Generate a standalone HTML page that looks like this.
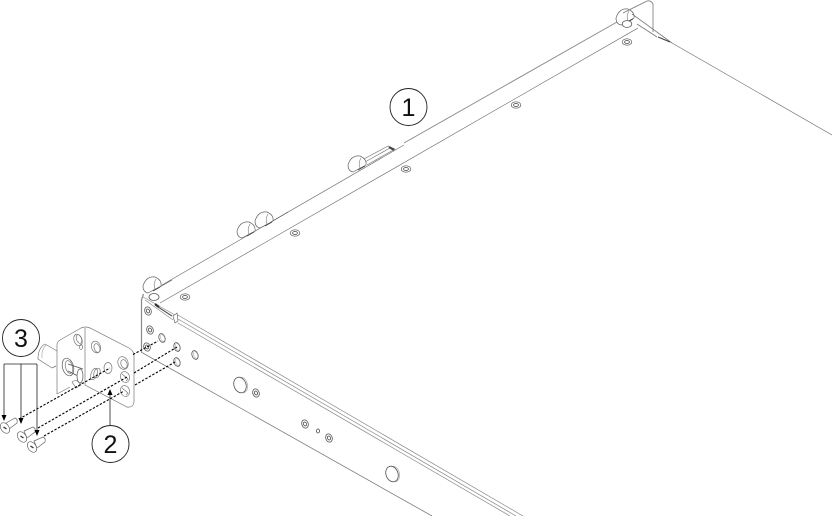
<!DOCTYPE html>
<html><head><meta charset="utf-8"><style>
html,body{margin:0;padding:0;background:#fff;width:832px;height:516px;overflow:hidden}
svg{display:block}
text{font-family:"Liberation Sans",sans-serif;fill:#111}
</style></head><body>
<svg width="832" height="516" viewBox="0 0 832 516" xmlns="http://www.w3.org/2000/svg" fill="none" stroke="#666" stroke-width=".6">
<defs>
<g id="s"><ellipse rx="4.800" ry="3.200" stroke="#555" stroke-width=".7"/><ellipse rx="2.400" ry="1.500" stroke="#444" stroke-width=".8"/></g>
<g id="w" stroke="#666" stroke-width=".7"><path d="M5 -9 Q-4 -10 -7 0 Q-7 6 -2 7 L11 0 Q12 -6 5 -9 Z" fill="#fff"/><path d="M6 -7 Q3 -2 5 3" stroke="#888"/><path d="M3 5 L10 1" stroke="#444" stroke-width=".9"/></g>
<g id="h"><ellipse rx="3" ry="4.500" transform="rotate(-20)" stroke="#555" stroke-width=".8"/><ellipse cx=".6" cy=".2" rx="2" ry="3.500" transform="rotate(-20)" stroke="#999" stroke-width=".5"/></g>
<g id="m"><ellipse rx="3.200" ry="4.200" transform="rotate(-20)" stroke="#555" stroke-width=".8"/><ellipse rx="1.500" ry="2" transform="rotate(-20)" stroke="#444" stroke-width=".8"/></g>
</defs>
<!-- top panel edges -->
<path d="M162 285 L404 145"/>
<path d="M404 143 L617 22" stroke="#888" stroke-width=".9"/>
<path d="M160 303 L638 28"/>
<path d="M672 43 L832 135"/>
<!-- far bracket -->
<use href="#w" x="623" y="18"/>
<path d="M623 13 L647 1 Q651 0 653 4 L653 32" stroke="#777" stroke-width=".8"/>
<path d="M632 14 L672 43 M637 24 L657 37" stroke="#777" stroke-width=".8"/>
<path d="M658 37 L670 42" stroke="#444" stroke-width="1"/>
<ellipse cx="627" cy="24" rx="4.800" ry="3.400" fill="#fff" stroke="#555" stroke-width=".8"/>
<use href="#s" x="627" y="42"/><use href="#s" x="516" y="105"/><use href="#s" x="406" y="169"/><use href="#s" x="295" y="233"/><use href="#s" x="185" y="297"/>
<!-- wheels and latches -->
<path d="M362 160 L388 146 L395 149 L367 165 M365 162 L390 148" stroke="#777" stroke-width=".7"/>
<path d="M389 147 L394 150" stroke="#444" stroke-width="2"/>
<use href="#w" x="355" y="165"/>
<use href="#w" x="262" y="221"/><use href="#w" x="244" y="231"/>
<path d="M271 222 L288 212" stroke="#555" stroke-width=".7"/>
<use href="#w" x="150" y="286"/>
<path d="M158 288 L172 280" stroke="#555" stroke-width=".7"/>
<!-- near corner -->
<ellipse cx="154" cy="297" rx="5" ry="3.500" stroke="#555" stroke-width=".8"/>
<path d="M141.500 352 L141.500 300 L143.500 294" stroke="#888" stroke-width="1.200"/>
<path d="M143 297 L175 315 M145 300 L173 320" stroke="#888" stroke-width=".7"/>
<path d="M155 305 L172 316" stroke="#555" stroke-width="1.100"/>
<path d="M155 304 L159 307" stroke="#333" stroke-width="2.200"/>
<path d="M173 316 L177 313 L178 321 L175 323 Z" fill="#fff" stroke="#555"/>
<!-- side panel edges -->
<path d="M177 314.500 L523 516 M178 319 L516 516 M178 323 L510 516" stroke="#888" stroke-width=".7"/>
<path d="M141 352 L432 516" stroke="#777" stroke-width=".75"/>
<!-- side holes -->
<use href="#m" x="148" y="311"/><use href="#m" x="150" y="330"/><use href="#m" x="147" y="347"/>
<use href="#h" x="162" y="338"/><use href="#h" x="177" y="347"/><use href="#h" x="177" y="362"/><use href="#h" x="195" y="355"/>
<ellipse cx="240" cy="385" rx="6" ry="8" transform="rotate(-20 240 385)" fill="#fff" stroke="#555" stroke-width=".8"/><path d="M241 377 Q249 379 247 390 Q245 393 243 393" stroke="#999"/>
<use href="#m" x="256" y="393"/><use href="#m" x="305" y="424"/><use href="#m" x="329" y="438"/>
<ellipse cx="318" cy="431" rx="1.500" ry="2" stroke="#444" stroke-width=".8"/>
<ellipse cx="392" cy="474" rx="6" ry="8" transform="rotate(-20 392 474)" fill="#fff" stroke="#555" stroke-width=".8"/><path d="M393 466 Q401 468 399 479 Q397 482 395 482" stroke="#999"/>
<!-- bracket -->
<g stroke="#777" stroke-width=".7">
<path d="M57 394 L57 345 Q57 342 60 340 L81 328 Q85 326 90 328 L129 348 Q134 351 134 356 L134 402 Q133 408 127 407 L85 385 L85 328 M57 394 L70 387"/>
<path d="M45 344 Q38 348 38 359 L52 368 M45 344 L57 351"/>
<path d="M46 345 Q41 350 42 358" stroke="#aaa"/>
<path d="M52 368 L56 366"/>
<ellipse cx="68" cy="367" rx="5.500" ry="9" transform="rotate(-15 68 367)" stroke="#555"/><ellipse cx="69" cy="367" rx="3.500" ry="6.500" transform="rotate(-15 69 367)"/>
<path d="M68 364 L83 369 M68 371 L78 376" stroke="#555"/>
<ellipse cx="80" cy="376" rx="3" ry="7" stroke="#555" fill="#fff"/>
<path d="M72 382 Q77 378 81 385 L76 388 Z"/>
<ellipse cx="78" cy="340" rx="4" ry="6" transform="rotate(-20 78 340)"/><ellipse cx="79" cy="339" rx="2.500" ry="4.500" transform="rotate(-20 79 339)"/>
<ellipse cx="81" cy="347" rx="1.500" ry="2.500"/>
<ellipse cx="96" cy="347" rx="4.500" ry="6" transform="rotate(-20 96 347)"/><ellipse cx="97" cy="348" rx="2.800" ry="4.500" transform="rotate(-20 97 348)"/>
<ellipse cx="94" cy="374" rx="3" ry="6" transform="rotate(20 94 374)"/><ellipse cx="97" cy="373" rx="3" ry="5" transform="rotate(20 97 373)"/>
<ellipse cx="108" cy="368" rx="4" ry="5.500"/>
<ellipse cx="123" cy="363" rx="5" ry="6.500" transform="rotate(-20 123 363)"/><ellipse cx="124" cy="364" rx="3" ry="4.500" transform="rotate(-20 124 364)"/>
<ellipse cx="125" cy="377" rx="4.500" ry="5.500" transform="rotate(-20 125 377)"/><path d="M122 374 L128 379 L126 381"/>
<ellipse cx="125" cy="391" rx="4.500" ry="5.500" transform="rotate(-20 125 391)"/><path d="M122 388 L128 393 L126 395"/>
</g>
<!-- dashed -->
<g stroke="#000" stroke-width="1.100" stroke-dasharray="2.400 1.600">
<path d="M19 419 L110 368 M133 354.500 L158 341"/>
<path d="M38 428 L127 377 M134 373 L177 347"/>
<path d="M44 436 L124 391 M135 385 L175 362"/>
</g>
<!-- screws -->
<g fill="#fff" stroke="#666" stroke-width=".7">
<path d="M6 423 L15 418 Q18 419 17 423 L9 429 Z"/><ellipse cx="5" cy="428" rx="4" ry="5.800" transform="rotate(-35 5 428)"/>
<path d="M24 431 L33 427 Q36 428 35 432 L27 438 Z"/><ellipse cx="22" cy="437" rx="4" ry="5.800" transform="rotate(-35 22 437)"/>
<path d="M34 441 L43 437 Q46 438 45 442 L37 448 Z"/><ellipse cx="32" cy="447" rx="4" ry="5.800" transform="rotate(-35 32 447)"/>
</g>
<path d="M3.500 427 L6.500 429 M20.500 436 L23.500 438 M30.500 446 L33.500 448" stroke="#333" stroke-width="1.300"/>
<!-- leaders -->
<g stroke="#222" stroke-width=".8">
<path d="M4 364 L37 364 M4 364 V416 M21 364 V419 M37 364 V431"/>
<path d="M110 425 V394"/>
</g>
<g fill="#000" stroke="none">
<path d="M1.500 415 L6.500 415 L4 421 Z"/><path d="M18.500 418 L23.500 418 L21 424 Z"/><path d="M34.500 430 L39.500 430 L37 436 Z"/><path d="M107.500 395 L112.500 395 L110 389 Z"/>
</g>
<!-- callouts -->
<g stroke="#222" stroke-width=".9" fill="#fff"><circle cx="21" cy="338" r="18.500"/><circle cx="110.500" cy="444" r="18.500"/><circle cx="408.500" cy="107" r="18.500"/></g>
<g font-size="25" text-anchor="middle" stroke="none" fill="#111"><text x="21" y="347">3</text><text x="110.500" y="453">2</text><text x="408.500" y="116">1</text></g>
</svg>
</body></html>
